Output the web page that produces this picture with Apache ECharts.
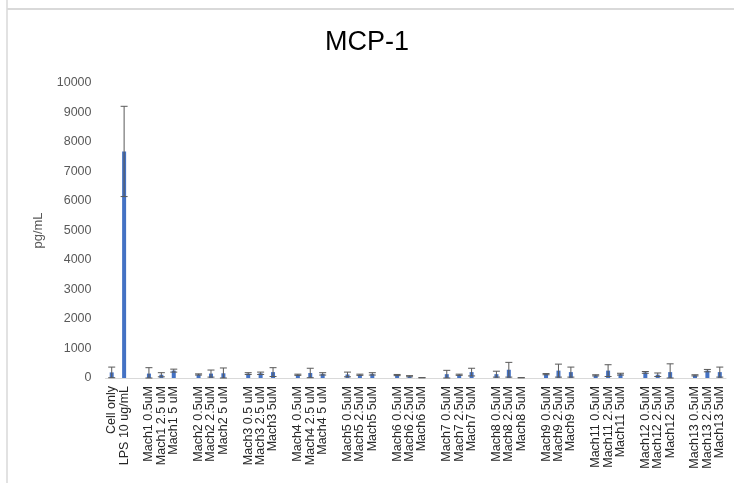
<!DOCTYPE html>
<html>
<head>
<meta charset="utf-8">
<script src="https://cdn.jsdelivr.net/npm/echarts@6/dist/echarts.min.js"></script>
<style>
  html, body { margin: 0; padding: 0; background: #fff; }
  #chart { width: 734px; height: 483px; }
</style>
</head>
<body>
<div id="chart"></div>
<script>
// Treatment groups; empty strings leave a gap between compound groups.
const categories = [
  'Cell only', 'LPS 10 ug/mL', '',
  'Mach1 0.5uM', 'Mach1 2.5 uM', 'Mach1 5 uM', '',
  'Mach2 0.5uM', 'Mach2 2.5uM', 'Mach2 5 uM', '',
  'Mach3 0.5 uM', 'Mach3 2.5 uM', 'Mach3 5uM', '',
  'Mach4 0.5uM', 'Mach4 2.5 uM', 'Mach4 5 uM', '',
  'Mach5 0.5uM', 'Mach5 2.5uM', 'Mach5 5uM', '',
  'Mach6 0.5uM', 'Mach6 2.5uM', 'Mach6 5uM', '',
  'Mach7 0.5uM', 'Mach7 2.5uM', 'Mach7 5uM', '',
  'Mach8 0.5uM', 'Mach8 2.5uM', 'Mach8 5uM', '',
  'Mach9 0.5uM', 'Mach9 2.5uM', 'Mach9 5uM', '',
  'Mach11 0.5uM', 'Mach11 2.5uM', 'Mach11 5uM', '',
  'Mach12 0.5uM', 'Mach12 2.5uM', 'Mach12 5uM', '',
  'Mach13 0.5uM', 'Mach13 2.5uM', 'Mach13 5uM'
];

// Mean MCP-1 concentration (pg/mL); null for the spacer slots.
const means = [
  190, 7680, null,
  150, 110, 250, null,
  120, 150, 160, null,
  150, 160, 200, null,
  110, 170, 140, null,
  120, 110, 140, null,
  100, 60, 10, null,
  130, 110, 200, null,
  130, 280, 10, null,
  130, 250, 200, null,
  90, 250, 130, null,
  190, 110, 200, null,
  90, 250, 200
];

// Error bar half-length (pg/mL).
const errors = [
  180, 1530, null,
  200, 70, 50, null,
  20, 120, 180, null,
  30, 40, 150, null,
  20, 160, 40, null,
  80, 20, 40, null,
  20, 20, 0, null,
  130, 20, 130, null,
  100, 250, 0, null,
  20, 220, 170, null,
  20, 200, 30, null,
  30, 60, 280, null,
  20, 40, 170
];

const yMin = 0, yMax = 10000, yStep = 1000;

const barData = means.map(v => (v === null ? '-' : v));
const errData = [];
means.forEach((m, i) => {
  if (m !== null) errData.push([i, m, errors[i]]);
});

const chart = echarts.init(document.getElementById('chart'), null, { renderer: 'canvas' });

chart.setOption({
  animation: false,
  backgroundColor: '#ffffff',
  title: {
    text: 'MCP-1',
    left: 'center',
    top: 24,
    textStyle: {
      fontFamily: 'Liberation Sans, Arial, sans-serif',
      fontSize: 27,
      fontWeight: 'normal',
      color: '#000000'
    }
  },
  graphic: [
    { type: 'line', shape: { x1: 7, y1: 0, x2: 7, y2: 483 }, style: { stroke: '#d9d9d9', lineWidth: 1.5 } },
    { type: 'line', shape: { x1: 7, y1: 9, x2: 734, y2: 9 }, style: { stroke: '#d9d9d9', lineWidth: 2 } }
  ],
  grid: { left: 105.5, right: 8, top: 83, bottom: 105, containLabel: false },
  xAxis: {
    type: 'category',
    data: categories,
    axisLine: { lineStyle: { color: '#d9d9d9', width: 1 } },
    axisTick: { show: false },
    axisLabel: {
      interval: 0,
      rotate: 90,
      margin: 8,
      fontFamily: 'Liberation Sans, Arial, sans-serif',
      fontSize: 12.5,
      color: '#262626'
    },
    splitLine: { show: false }
  },
  yAxis: {
    type: 'value',
    min: yMin,
    max: yMax,
    interval: yStep,
    name: 'pg/mL',
    nameLocation: 'middle',
    nameRotate: 90,
    nameGap: 61,
    nameTextStyle: {
      fontFamily: 'Liberation Sans, Arial, sans-serif',
      fontSize: 13,
      color: '#595959'
    },
    axisLine: { show: false },
    axisTick: { show: false },
    splitLine: { show: false },
    axisLabel: {
      margin: 14,
      formatter: v => String(v),
      fontFamily: 'Liberation Sans, Arial, sans-serif',
      fontSize: 12.5,
      color: '#595959'
    }
  },
  series: [
    {
      type: 'bar',
      data: barData,
      barWidth: 4,
      itemStyle: { color: '#4472c4' }
    },
    {
      type: 'custom',
      data: errData,
      z: 10,
      renderItem: function (params, api) {
        const x = api.value(0);
        const m = api.value(1);
        const e = api.value(2);
        const top = api.coord([x, m + e]);
        const bot = api.coord([x, Math.max(m - e, 0)]);
        const hw = 3.5;
        const style = { stroke: '#595959', lineWidth: 1, fill: null };
        return {
          type: 'group',
          children: [
            { type: 'line', shape: { x1: top[0], y1: top[1], x2: bot[0], y2: bot[1] }, style: style },
            { type: 'line', shape: { x1: top[0] - hw, y1: top[1], x2: top[0] + hw, y2: top[1] }, style: style },
            { type: 'line', shape: { x1: bot[0] - hw, y1: bot[1], x2: bot[0] + hw, y2: bot[1] }, style: style }
          ]
        };
      }
    }
  ]
});
</script>
</body>
</html>
